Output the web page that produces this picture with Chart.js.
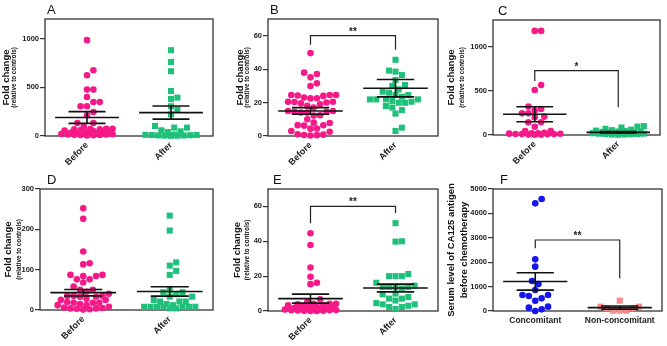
<!DOCTYPE html>
<html>
<head>
<meta charset="utf-8">
<script src="https://cdn.jsdelivr.net/npm/chart.js@4.4.1/dist/chart.umd.min.js"></script>
<style>
  body { margin: 0; background: #fff; }
  #fig { position: relative; width: 667px; height: 346px; }
  canvas { position: absolute; }
</style>
</head>
<body>
<div id="fig">
  <canvas id="pA" width="222" height="172" style="left:0;top:0"></canvas>
  <canvas id="pB" width="222" height="172" style="left:222px;top:0"></canvas>
  <canvas id="pC" width="223" height="172" style="left:444px;top:0"></canvas>
  <canvas id="pD" width="222" height="174" style="left:0;top:172px"></canvas>
  <canvas id="pE" width="222" height="174" style="left:222px;top:172px"></canvas>
  <canvas id="pF" width="223" height="174" style="left:444px;top:172px"></canvas>
</div>
<script>
// group names / tick labels
var groups = ["Before", "After"];
var groupsF = ["Concomitant", "Non-concomitant"];

var ticksA = [0, 500, 1000];
var ticksB = [0, 20, 40, 60];
var ticksC = [0, 500, 1000];
var ticksD = [0, 100, 200, 300];
var ticksE = [0, 20, 40, 60];
var ticksF = [0, 1000, 2000, 3000, 4000, 5000];

// values
var aBefore = [983, 675, 623, 476, 476, 400, 349, 349, 305, 305, 246, 212, 133, 133, 95, 75, 75, 72, 70, 68, 60, 55, 50, 45, 40, 35, 30, 28, 25, 22, 20, 20, 18, 15, 15, 12, 10, 10, 8, 5];
var aAfter = [880, 760, 664, 462, 394, 380, 305, 270, 222, 103, 86, 86, 58, 48, 40, 15, 12, 10, 10, 8, 6, 5, 4, 3, 2];
var aMean = [190, 240];
var aSem = [60, 67];

var bBefore = [49.6, 37.9, 37.1, 35.1, 31.5, 29.9, 24.5, 24.5, 24.5, 24.2, 24, 23, 22.6, 22.5, 20.5, 20.5, 20.3, 20, 19.5, 19, 18, 17, 15, 15, 14.5, 14.5, 14, 14, 12.4, 12.2, 10, 8, 7.8, 6.5, 6.4, 6.2, 4.5, 4.4, 3, 2.5, 1, 0.8, 0.6, 0.5, 0.3];
var bAfter = [45.6, 39.1, 38.5, 36.5, 33.5, 30.5, 29.9, 27.9, 26.5, 25.9, 24.5, 24.5, 23.5, 21.9, 21.9, 21.9, 21.9, 21, 20.5, 19.9, 19.9, 17.9, 17, 15.5, 13.4, 5, 3];
var bMean = [15, 28.6];
var bSem = [1.95, 5.2];
var bBracket = [60, 54.6, 51.6];

var cBefore = [1177, 1177, 566, 509, 321, 294, 275, 245, 245, 208, 200, 143, 143, 94, 45, 45, 25, 20, 18, 15, 14, 12, 10, 10, 8, 6, 4, 2];
var cAfter = [100, 95, 85, 70, 60, 55, 50, 45, 40, 40, 35, 30, 30, 25, 25, 20, 20, 15, 15, 10, 10, 8, 5, 5, 3];
var cMean = [235, 30];
var cSem = [85, 8];
var cBracket = [728, 611, 313];

var dBefore = [252, 226, 145, 116, 113, 87, 87, 84, 84, 76, 76, 68, 58, 50, 50, 45, 40, 35, 35, 35, 33, 33, 28, 25, 25, 20, 18, 18, 18, 15, 12, 12, 8, 6, 5, 4, 4, 3, 2, 1];
var dAfter = [234, 197, 118, 110, 97, 87, 50, 44, 44, 39, 33, 33, 25, 21, 21, 21, 15, 12, 8, 8, 8, 8, 8, 8, 8, 4, 4];
var dMean = [43, 46];
var dSem = [8, 11.5];

var eBefore = [44.6, 37.9, 25, 19.6, 16.2, 15.4, 6.7, 5.2, 4.2, 4.2, 4.2, 3.8, 3.3, 3.3, 2.8, 2.5, 2.2, 2, 1.8, 1.5, 1.2, 1, 1, 0.9, 0.8, 0.6, 0.5, 0.4, 0.3, 0.2, 0.1, 0, 0];
var eAfter = [50.4, 40, 39.8, 21.2, 20, 20, 20, 16.2, 14.5, 13.8, 13.8, 13.8, 13.8, 12.9, 10, 9.6, 8, 7.1, 7.1, 6, 4.5, 3.8, 3.8, 3, 2.3, 2.3, 1.2];
var eMean = [7.1, 13.2];
var eSem = [2.6, 2.2];
var eBracket = [60, 50.4, 56.2];

var fConc = [4590, 4412, 2117, 1817, 1229, 1107, 860, 656, 656, 615, 519, 423, 178, 137, 68, 0];
var fNon = [423, 178, 178, 110, 110, 14, 14, 14];
var fMean = [1210, 137];
var fSem = [355, 68];
var fBracket = [2909, 2568, 1339];

var FONT = "'Liberation Sans', Arial, Helvetica, sans-serif";
var PINK = "#f51a87", GREEN = "#1fc07a", BLUE = "#1515f0", SALMON = "#f88a8a";

var panels = [
  { id: "pA", letter: "A", x: 0, y: 0, w: 222, h: 172, area: [45, 19, 213, 136], ymax: 1200, ticks: ticksA,
    data: [aBefore, aAfter], mean: aMean, sem: aSem, labels: groups, colors: [PINK, GREEN], rot: 45,
    title: ["Fold change", "(relative to controls)"], t: [-38.5, -30.5], lx: 2 },
  { id: "pB", letter: "B", x: 222, y: 0, w: 222, h: 172, area: [268, 19, 438, 136], ymax: 70, ticks: ticksB,
    data: [bBefore, bAfter], mean: bMean, sem: bSem, labels: groups, colors: [PINK, GREEN], rot: 45,
    bracket: bBracket, star: "**", title: ["Fold change", "(relative to controls)"], t: [-28, -20.5], lx: 2 },
  { id: "pC", letter: "C", x: 444, y: 0, w: 223, h: 172, area: [493, 20, 660, 135], ymax: 1300, ticks: ticksC,
    data: [cBefore, cAfter], mean: cMean, sem: cSem, labels: groups, colors: [PINK, GREEN], rot: 45,
    bracket: cBracket, star: "*", title: ["Fold change", "(relative to controls)"], t: [-41.5, -30.5], lx: 5 },
  { id: "pD", letter: "D", x: 0, y: 172, w: 222, h: 174, area: [40, 189, 213, 310], ymax: 300, ticks: ticksD,
    data: [dBefore, dAfter], mean: dMean, sem: dSem, labels: groups, colors: [PINK, GREEN], rot: 45,
    title: ["Fold change", "(relative to controls)"], t: [-31.5, -20.5], lx: 7 },
  { id: "pE", letter: "E", x: 222, y: 172, w: 222, h: 174, area: [268, 189, 438, 311], ymax: 70, ticks: ticksE,
    data: [eBefore, eAfter], mean: eMean, sem: eSem, labels: groups, colors: [PINK, GREEN], rot: 45,
    bracket: eBracket, star: "**", title: ["Fold change", "(relative to controls)"], t: [-30.5, -20.5], lx: 5 },
  { id: "pF", letter: "F", x: 444, y: 172, w: 223, h: 174, area: [493, 189, 662, 311], ymax: 5000, ticks: ticksF,
    data: [fConc, fNon], mean: fMean, sem: fSem, labels: groupsF, colors: [BLUE, SALMON], rot: 0,
    bracket: fBracket, star: "**", title: ["Serum level of CA125 antigen", "before chemotherapy"], t: [-42, -28.5], lx: 7, sameFont: true }
];

// beeswarm: spread points sideways (pixels), overlap allowed past maxHalf
function swarm(vals, hPx, ymax, pxPerUnit, d, maxHalf) {
  var order = vals.map(function (v, i) { return i; }).sort(function (a, b) { return vals[a] - vals[b]; });
  var placed = [], out = [];
  order.forEach(function (i) {
    var y = vals[i] / ymax * hPx, best = 0, bestDist = -1;
    for (var k = 0; k < 80; k++) {
      var cand = (k % 2 ? 1 : -1) * Math.ceil(k / 2) * d * 0.5;
      if (Math.abs(cand) > maxHalf) break;
      var md = placed.reduce(function (m, p) { return Math.min(m, Math.hypot(p.x - cand, p.y - y)); }, 1e9);
      if (md >= d) { best = cand; break; }
      if (md > bestDist + 0.5) { bestDist = md; best = cand; }
    }
    placed.push({ x: best, y: y });
    out[i] = best / pxPerUnit;
  });
  return out;
}

function line(ctx, x0, y0, x1, y1) {
  ctx.beginPath(); ctx.moveTo(x0, y0); ctx.lineTo(x1, y1); ctx.stroke();
}

var figPlugin = {
  id: "fig",
  beforeDatasetsDraw: function (chart) {
    var a = chart.chartArea, ctx = chart.ctx;
    ctx.save();
    ctx.strokeStyle = "#333"; ctx.lineWidth = 1.3;
    ctx.strokeRect(a.left, a.top, a.right - a.left, a.bottom - a.top);
    ctx.restore();
  },
  afterDatasetsDraw: function (chart, args, o) {
    var ctx = chart.ctx, xs = chart.scales.x, ys = chart.scales.y;
    var unit = xs.getPixelForValue(1) - xs.getPixelForValue(0);
    ctx.save();
    ctx.strokeStyle = "#111"; ctx.lineWidth = 1.6;
    o.mean.forEach(function (m, i) {
      var cx = xs.getPixelForValue(i);
      var ym = ys.getPixelForValue(m), yh = ys.getPixelForValue(m + o.sem[i]), yl = ys.getPixelForValue(Math.max(m - o.sem[i], 0));
      var mw = unit * 0.38, sw = unit * 0.22;
      line(ctx, cx - mw, ym, cx + mw, ym);
      line(ctx, cx - sw, yh, cx + sw, yh);
      line(ctx, cx - sw, yl, cx + sw, yl);
      line(ctx, cx, yh, cx, yl);
    });
    if (o.bracket) {
      var x0 = xs.getPixelForValue(0), x1 = xs.getPixelForValue(1);
      var yt = ys.getPixelForValue(o.bracket[0]);
      ctx.lineWidth = 1.2; ctx.strokeStyle = "#222";
      ctx.beginPath();
      ctx.moveTo(x0, ys.getPixelForValue(o.bracket[1]));
      ctx.lineTo(x0, yt); ctx.lineTo(x1, yt);
      ctx.lineTo(x1, ys.getPixelForValue(o.bracket[2]));
      ctx.stroke();
      ctx.fillStyle = "#222"; ctx.font = "bold 10px " + FONT;
      ctx.textAlign = "center"; ctx.textBaseline = "alphabetic";
      ctx.fillText(o.star, (x0 + x1) / 2, yt - 1);
    }
    ctx.restore();
  },
  afterDraw: function (chart, args, o) {
    var ctx = chart.ctx, a = chart.chartArea;
    ctx.save();
    ctx.fillStyle = "#111";
    ctx.font = "13px " + FONT;
    ctx.textAlign = "left"; ctx.textBaseline = "alphabetic";
    ctx.fillText(o.letter, a.left + o.lx, a.top - 5);
    var cy = (a.top + a.bottom) / 2;
    ctx.textAlign = "center"; ctx.textBaseline = "middle";
    ctx.translate(a.left, cy);
    ctx.rotate(-Math.PI / 2);
    ctx.font = "bold 9.5px " + FONT;
    ctx.fillText(o.title[0], 0, o.t[0]);
    ctx.font = o.sameFont ? "bold 9.5px " + FONT : "bold 6.3px " + FONT;
    ctx.fillText(o.title[1], 0, o.t[1]);
    ctx.restore();
  }
};

var shapes = ["circle", "rect"];
var radii = [3.3, 4.3];

panels.forEach(function (p) {
  var yW = p.area[0] - p.x, xH = p.y + p.h - p.area[3];
  var padTop = p.area[1] - p.y, padRight = p.x + p.w - p.area[2];
  var hPx = p.area[3] - p.area[1], pxPerUnit = (p.area[2] - p.area[0]) / 2;

  var datasets = p.data.map(function (vals, g) {
    var jit = swarm(vals, hPx, p.ymax, pxPerUnit, 6.4, 27);
    return {
      data: vals.map(function (v, i) { return { x: g + jit[i], y: v }; }),
      pointStyle: shapes[g],
      pointRadius: radii[g],
      pointBackgroundColor: p.colors[g],
      pointBorderWidth: 0,
      showLine: false,
      clip: false
    };
  });

  new Chart(document.getElementById(p.id), {
    type: "scatter",
    data: { datasets: datasets },
    plugins: [figPlugin],
    options: {
      responsive: false,
      animation: false,
      devicePixelRatio: 1,
      layout: { padding: { top: padTop, right: padRight, left: 0, bottom: 0 } },
      plugins: {
        legend: { display: false },
        tooltip: { enabled: false },
        fig: { letter: p.letter, mean: p.mean, sem: p.sem, bracket: p.bracket, star: p.star,
               title: p.title, t: p.t, lx: p.lx, sameFont: p.sameFont }
      },
      scales: {
        x: {
          type: "linear", min: -0.5, max: 1.5,
          afterBuildTicks: function (s) { s.ticks = [{ value: 0 }, { value: 1 }]; },
          afterFit: function (s) { s.height = xH; s.paddingLeft = 0; s.paddingRight = 0; },
          ticks: {
            callback: function (v) { return p.labels[v]; },
            autoSkip: false, minRotation: p.rot, maxRotation: p.rot,
            padding: p.rot ? 4 : 5, color: "#222",
            font: { family: FONT, size: p.rot ? 9 : 8.5, weight: "bold" }
          },
          grid: { display: false, drawTicks: false },
          border: { display: false }
        },
        y: {
          min: 0, max: p.ymax,
          afterBuildTicks: function (s) { s.ticks = p.ticks.map(function (v) { return { value: v }; }); },
          afterFit: function (s) { s.width = yW; s.paddingTop = 0; s.paddingBottom = 0; },
          ticks: { color: "#222", padding: 1, font: { family: FONT, size: 7.5, weight: "bold" },
                   callback: function (v) { return String(v); } },
          grid: { drawOnChartArea: false, drawTicks: true, tickLength: 5, color: "#333", lineWidth: 1.2 },
          border: { display: false }
        }
      }
    }
  });
});
</script>
</body>
</html>
